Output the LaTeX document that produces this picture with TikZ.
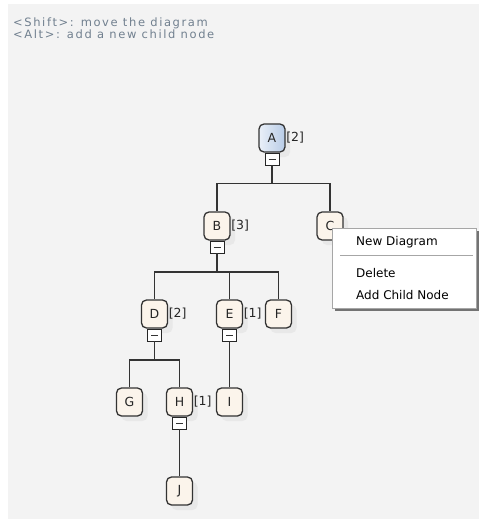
\documentclass[tikz,border=0pt]{standalone}
\usepackage{fontspec}
\setmainfont{DejaVu Sans}
\newfontfamily\hintfont[LetterSpace=14]{DejaVu Sans}
\usepackage{tikz}
\usetikzlibrary{shadows}
\definecolor{canvasgray}{HTML}{F3F3F3}
\definecolor{nodefill}{HTML}{FBF4EB}
\definecolor{nodeline}{HTML}{333333}
\definecolor{hintcol}{HTML}{71808F}
\definecolor{selleft}{HTML}{EAF0F8}
\definecolor{selright}{HTML}{B7CBE6}

\begin{document}
\begin{tikzpicture}[x=1pt,y=-1pt,
    every node/.style={font=\fontsize{12.5}{14}\selectfont, text=black!85},
    treenode/.style={draw=nodeline, line width=1.3pt, rounded corners=5pt, fill=nodefill,
        minimum width=26pt, minimum height=28pt, inner sep=0pt,
        drop shadow={shadow xshift=5pt, shadow yshift=-5pt, fill=black!9, opacity=1}},
    selected/.style={left color=selleft, right color=selright},
    countlabel/.style={anchor=west, inner sep=0pt, xshift=0.5pt},
    collapsebox/.style={draw=black!85, fill=white, line width=0.8pt, anchor=north,
        minimum width=14pt, minimum height=12pt, inner sep=0pt,
        path picture={\draw[line width=1.1pt, black!80]
            ([xshift=3.5pt]path picture bounding box.west) -- ([xshift=-3.5pt]path picture bounding box.east);}},
    link/.style={draw=nodeline, line width=1.2pt},
    hinttext/.style={anchor=base west, inner sep=0pt, text=hintcol, font=\hintfont\fontsize{11.5}{11.5}\selectfont},
    menuitem/.style={anchor=base west, inner sep=0pt, text=black, font=\fontsize{12}{14}\selectfont}]

    \useasboundingbox (0,0) rectangle (479,519);
    \fill[white] (0,0) rectangle (479,519);
    \fill[canvasgray] (8,4) rectangle (479,519);

    \node[hinttext] (hint1) at (13,26.5) {<Shift>: move the diagram};
    \node[hinttext] (hint2) at (13,38) {<Alt>: add a new child node};

    \node[treenode,selected] (nA) at (272,138) {A};
    \node[treenode] (nB) at (217,226) {B};
    \node[treenode] (nC) at (330,226) {C};
    \node[treenode] (nD) at (154.5,314) {D};
    \node[treenode] (nE) at (229.5,314) {E};
    \node[treenode] (nF) at (278.5,314) {F};
    \node[treenode] (nG) at (129.5,402) {G};
    \node[treenode] (nH) at (179.5,402) {H};
    \node[treenode] (nI) at (229.5,402) {I};
    \node[treenode] (nJ) at (179.5,491) {J};

    \node[countlabel] (cA) at (nA.east) {[2]};
    \node[countlabel] (cB) at (nB.east) {[3]};
    \node[countlabel] (cD) at (nD.east) {[2]};
    \node[countlabel] (cE) at (nE.east) {[1]};
    \node[countlabel] (cH) at (nH.east) {[1]};

    \node[collapsebox] (xA) at (nA.south) {};
    \node[collapsebox] (xB) at (nB.south) {};
    \node[collapsebox] (xD) at (nD.south) {};
    \node[collapsebox] (xE) at (nE.south) {};
    \node[collapsebox] (xH) at (nH.south) {};

    \draw[link] (xA.south) -- ++(0,18) -| (nB.north);
    \draw[link] (xA.south) -- ++(0,18) -| (nC.north);
    \draw[link] (xB.south) -- ++(0,18.5) -| (nD.north);
    \draw[link] (xB.south) -- ++(0,18.5) -| (nE.north);
    \draw[link] (xB.south) -- ++(0,18.5) -| (nF.north);
    \draw[link] (xD.south) -- ++(0,18.5) -| (nG.north);
    \draw[link] (xD.south) -- ++(0,18.5) -| (nH.north);
    \draw[link] (xE.south) -- (nI.north);
    \draw[link] (xH.south) -- (nJ.north);

    \node[draw=black!35, fill=white, minimum width=144pt, minimum height=80pt, inner sep=0pt,
        drop shadow={shadow xshift=2.5pt, shadow yshift=-2.5pt, fill=black!55, opacity=1}]
        (menu) at (404,268) {};
    \draw[black!35, line width=1pt] (340,255.5) -- (473,255.5);
    \node[menuitem] (mNew) at (356,245.5) {New Diagram};
    \node[menuitem] (mDel) at (356,277) {Delete};
    \node[menuitem] (mAdd) at (356,299) {Add Child Node};
\end{tikzpicture}
\end{document}
